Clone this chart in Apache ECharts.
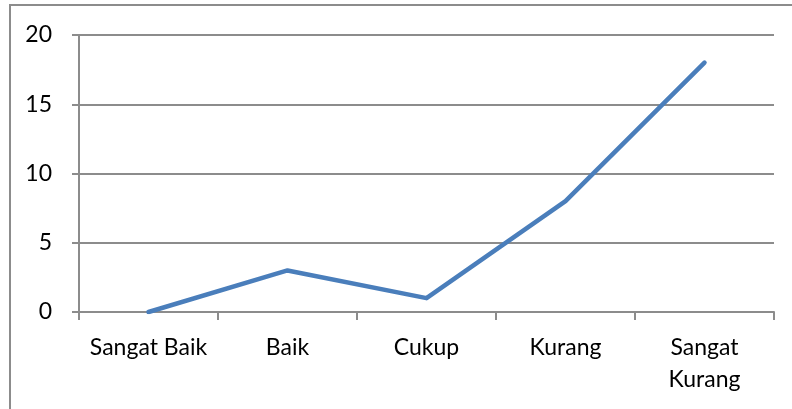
<!DOCTYPE html>
<html>
<head>
<meta charset="utf-8">
<script src="https://cdn.jsdelivr.net/npm/echarts@6/dist/echarts.min.js"></script>
<style>
  html, body { margin: 0; padding: 0; background: #fff; }
  #chart { width: 792px; height: 409px; }
</style>
</head>
<body>
<div id="chart"></div>
<script>
// data
var categories = ['Sangat Baik', 'Baik', 'Cukup', 'Kurang', 'Sangat\nKurang'];
var values = [0, 3, 1, 8, 18];

var myChart = echarts.init(document.getElementById('chart'));

var axisGray = '#8c8c8c';
var labelFont = { color: '#000', fontFamily: 'Lato, "Open Sans", sans-serif', fontSize: 23 };

var option = {
    animation: false,
    backgroundColor: '#fff',
    graphic: [{
        type: 'rect',
        shape: { x: 10, y: 5, width: 820, height: 440 },
        style: { fill: 'none', stroke: '#8c8c8c', lineWidth: 2 }
    }],
    grid: { left: 79, right: 18, top: 35, bottom: 97 },
    xAxis: {
        type: 'category',
        data: categories,
        boundaryGap: true,
        axisLine: { lineStyle: { color: axisGray, width: 2 } },
        axisTick: { show: true, length: 8, lineStyle: { color: axisGray, width: 2 } },
        axisLabel: Object.assign({ margin: 20, lineHeight: 32, interval: 0 }, labelFont)
    },
    yAxis: {
        type: 'value',
        min: 0,
        max: 20,
        interval: 5,
        axisLine: { show: true, lineStyle: { color: axisGray, width: 2 } },
        axisTick: { show: true, length: 7, lineStyle: { color: axisGray, width: 2 } },
        splitLine: { lineStyle: { color: axisGray, width: 2 } },
        axisLabel: Object.assign({ margin: 27 }, labelFont)
    },
    series: [{
        type: 'line',
        data: values,
        symbol: 'none',
        lineStyle: { color: '#4a7ebb', width: 4.5, cap: 'round', join: 'round' }
    }]
};

myChart.setOption(option);
</script>
</body>
</html>
